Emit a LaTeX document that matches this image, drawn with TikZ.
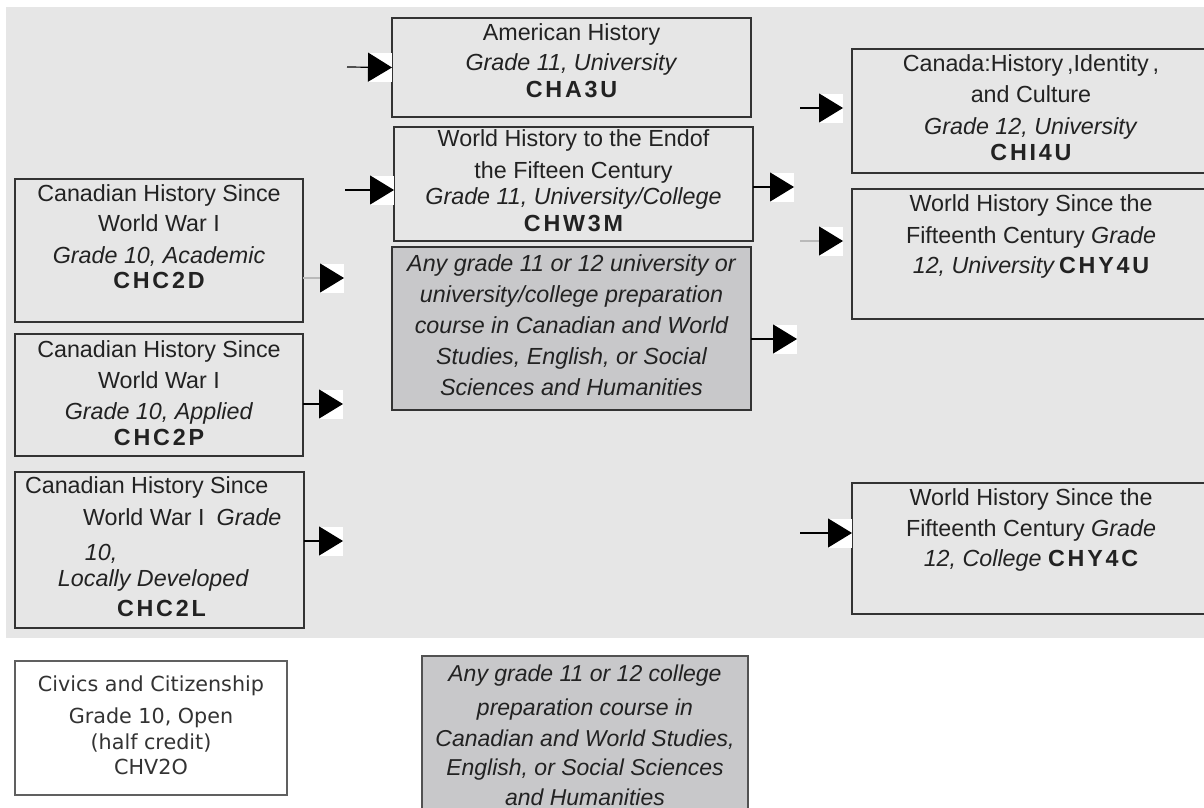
\documentclass[tikz,border=0pt]{standalone}
\usepackage{fontspec}
\setmainfont{Liberation Sans}
\newfontfamily\codefont[LetterSpace=12]{Liberation Sans}
\newfontfamily\tahoma{DejaVu Sans}
\usetikzlibrary{arrows.meta,calc}
\definecolor{bgc}{RGB}{230,230,230}
\definecolor{anyc}{RGB}{200,200,202}
\definecolor{bord}{RGB}{51,51,51}
\definecolor{txt}{RGB}{34,34,34}
\newcommand{\code}[1]{{\codefont\bfseries #1}}
\newcommand{\whitesq}[1]{\fill[white] ($(#1)+(-24,-14.5)$) rectangle ($(#1)+(0,14.5)$);}
\tikzset{
  box/.style={draw=bord, line width=1.6pt, inner sep=0pt, outer sep=0pt, anchor=north west,
    text=txt, font=\fontsize{23.3}{30}\selectfont},
  anybox/.style={box, fill=anyc},
  civbox/.style={box, fill=white, draw=gray!75!black, line width=1.8pt, text=black!80,
    font=\tahoma\fontsize{20.7}{26}\selectfont},
  conn/.style={line width=1.2pt, -{Triangle[length=24pt,width=29pt,color=black]}},
  faint/.style={draw=gray!55}
}
\begin{document}
\begin{tikzpicture}[x=1pt,y=-1pt]
\useasboundingbox (0,0) rectangle (1204,808);
\fill[white] (0,0) rectangle (1204,808);
\fill[bgc] (6,7) rectangle (1204,638);

% left column
\node[box] (chc2d) at (15,179) {\parbox[c][143pt][t]{288pt}{\centering\rule{0pt}{22.5pt}Canadian History Since\\World War I\\[2pt]\textit{Grade 10, Academic}\\[-5pt]\code{CHC2D}}};
\node[box] (chc2p) at (15,334) {\parbox[c][122pt][t]{288pt}{\centering\rule{0pt}{23.5pt}Canadian History Since\\[1pt]World War I\\[1pt]\textit{Grade 10, Applied}\\[-4pt]\code{CHC2P}}};
\node[box] (chc2l) at (15,472) {\parbox[c][156pt][t]{289pt}{\raggedright\rule{0pt}{21.5pt}\hspace*{10pt}Canadian History Since\\[2pt]\hspace*{68pt}World War I\hspace{12pt}\textit{Grade}\\[5pt]\hspace*{70pt}\textit{10,}\\[-4pt]\hspace*{43pt}\textit{Locally Developed}\\\hspace*{102pt}\code{CHC2L}}};

% middle column
\node[box] (cha3u) at (392,18) {\parbox[c][99pt][t]{359pt}{\centering\rule{0pt}{22.5pt}American History\\\textit{Grade 11, University}\\[-3pt]\code{CHA3U}}};
\node[box] (chw3m) at (394,127) {\parbox[c][114pt][t]{359pt}{\centering\rule{0pt}{19.5pt}World History to the Endof\\[2pt]the Fifteen Century\\[-4pt]\textit{Grade 11, University/College}\\[-3pt]\code{CHW3M}}};
\node[anybox] (anyu) at (392,247) {\parbox[c][163pt][t]{359pt}{\centering\fontsize{23.3}{31}\selectfont\itshape\rule{0pt}{24.5pt}Any grade 11 or 12 university or\\university/college preparation\\course in Canadian and World\\Studies, English, or Social\\Sciences and Humanities}};

% right column
\node[box] (chi4u) at (852,49) {\parbox[c][124pt][t]{358pt}{\centering\rule{0pt}{22.5pt}Canada:History\,,Identity\,,\\[1pt]and Culture\\[2pt]\textit{Grade 12, University}\\[-4pt]\code{CHI4U}}};
\node[box] (chy4u) at (852,189) {\parbox[c][130pt][t]{358pt}{\centering\rule{0pt}{22.5pt}World History Since the\\[2pt]Fifteenth Century \textit{Grade}\\\textit{12, University}\,\code{CHY4U}}};
\node[box] (chy4c) at (852,483) {\parbox[c][131pt][t]{358pt}{\centering\rule{0pt}{22.5pt}World History Since the\\[1pt]Fifteenth Century \textit{Grade}\\\textit{12, College} \code{CHY4C}}};

% bottom
\node[civbox] (chv2o) at (15,661) {\parbox[c][134pt][t]{272pt}{\centering\rule{0pt}{30.5pt}Civics and Citizenship\\[6pt]Grade 10, Open\\(half credit)\\[-1pt]CHV2O}};
\node[anybox, draw=bord!85] (anyc) at (422,656) {\parbox[c][160pt][t]{326pt}{\centering\fontsize{23}{30}\selectfont\itshape\rule{0pt}{25.3pt}Any grade 11 or 12 college\\[4pt]preparation course in\\[1pt]Canadian and World Studies,\\[-1pt]English, or Social Sciences\\and Humanities}};

% connector coordinates
\coordinate (s1) at (347,67);
\coordinate (s2) at (345,190);
\coordinate (e3) at (344,278);
\coordinate (e4) at (343,404);
\coordinate (e5) at (343,541);
\coordinate (e6) at (794,187);
\coordinate (e7) at (797,339);
\coordinate (s8) at (800,108);
\coordinate (e8) at (843,108);
\coordinate (s9) at (800,241);
\coordinate (e9) at (843,241);
\coordinate (s10) at (800,533);
\coordinate (t2) at (s2 -| chw3m.west);
\coordinate (t10) at (s10 -| chy4c.west);

% white squares behind arrowheads
\whitesq{cha3u.west}
\whitesq{t2}
\whitesq{e3}
\whitesq{e4}
\whitesq{e5}
\whitesq{e6}
\whitesq{e7}
\whitesq{e8}
\whitesq{e9}
\whitesq{t10}

% connectors
\draw[conn] (s1) -- (cha3u.west);
\draw[conn] (s2) -- (t2);
\draw[conn, faint] (chc2d.east |- e3) -- (e3);
\draw[conn] (chc2p.east |- e4) -- (e4);
\draw[conn] (chc2l.east |- e5) -- (e5);
\draw[conn] (chw3m.east |- e6) -- (e6);
\draw[conn] (anyu.east |- e7) -- (e7);
\draw[conn] (s8) -- (e8);
\draw[conn, faint] (s9) -- (e9);
\draw[conn] (s10) -- (t10);
\end{tikzpicture}
\end{document}
